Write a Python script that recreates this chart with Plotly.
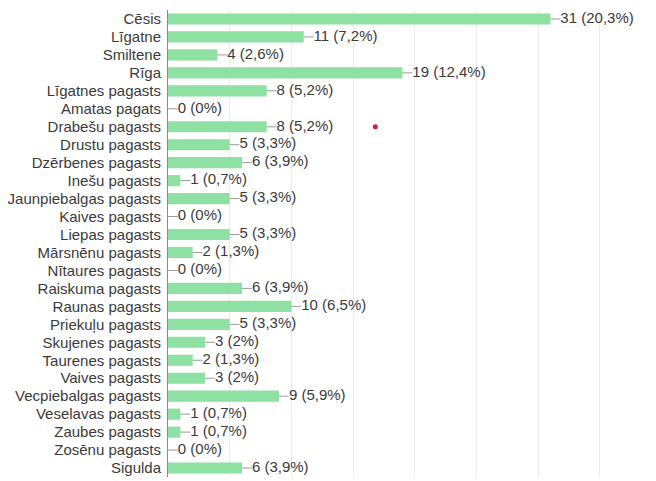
import plotly.graph_objects as go

categories = ["Cēsis", "Līgatne", "Smiltene", "Rīga", "Līgatnes pagasts", "Amatas pagats",
              "Drabešu pagasts", "Drustu pagasts", "Dzērbenes pagasts", "Inešu pagasts",
              "Jaunpiebalgas pagasts", "Kaives pagasts", "Liepas pagasts", "Mārsnēnu pagasts",
              "Nītaures pagasts", "Raiskuma pagasts", "Raunas pagasts", "Priekuļu pagasts",
              "Skujenes pagasts", "Taurenes pagasts", "Vaives pagasts", "Vecpiebalgas pagasts",
              "Veselavas pagasts", "Zaubes pagasts", "Zosēnu pagasts", "Sigulda"]
values = [31, 11, 4, 19, 8, 0, 8, 5, 6, 1, 5, 0, 5, 2, 0, 6, 10, 5, 3, 2, 3, 9, 1, 1, 0, 6]
percents = ["20,3%", "7,2%", "2,6%", "12,4%", "5,2%", "0%", "5,2%", "3,3%", "3,9%", "0,7%",
            "3,3%", "0%", "3,3%", "1,3%", "0%", "3,9%", "6,5%", "3,3%", "2%", "1,3%",
            "2%", "5,9%", "0,7%", "0,7%", "0%", "3,9%"]

# stray red dot seen in the reference
dot_x = [16.8]
dot_y = ["Drabešu pagasts"]

leader = 0.8
labels = [f"{v} ({p})" for v, p in zip(values, percents)]

fig = go.Figure()
fig.add_trace(go.Bar(
    x=values, y=categories, orientation="h",
    marker=dict(color="#8ee0a3", line=dict(width=0)),
    hoverinfo="skip",
))
lx, ly = [], []
for v, c in zip(values, categories):
    lx += [v, v + leader, None]
    ly += [c, c, None]
fig.add_trace(go.Scatter(x=lx, y=ly, mode="lines",
                         line=dict(color="#999999", width=1), hoverinfo="skip"))
fig.add_trace(go.Scatter(
    x=[v + leader for v in values], y=categories, mode="text",
    text=labels, textposition="middle right",
    textfont=dict(family="Liberation Sans, Arial", size=15, color="#3a3a3a"),
    hoverinfo="skip",
))
fig.add_trace(go.Scatter(x=dot_x, y=dot_y, mode="markers",
                         marker=dict(color="#d0202f", size=5), hoverinfo="skip"))

n = len(categories)
fig.update_layout(
    width=656, height=481,
    margin=dict(l=160, r=0, t=2, b=12, autoexpand=False),
    paper_bgcolor="white", plot_bgcolor="white",
    showlegend=False, bargap=0.38,
    font=dict(family="Liberation Sans, Arial", size=15, color="#3a3a3a"),
)
fig.update_xaxes(range=[0, 40.2], dtick=5, showgrid=True, gridcolor="#ececec",
                 showticklabels=False, zeroline=False, ticks="", automargin=False)
fig.update_yaxes(categoryorder="array", categoryarray=categories,
                 range=[n - 0.5, -0.5], tickmode="array", tickvals=categories,
                 showline=True, linecolor="#8a8a8a", linewidth=1, ticks="",
                 ticklabelstandoff=3, showgrid=False, automargin=False)

fig.write_html("out.html")
